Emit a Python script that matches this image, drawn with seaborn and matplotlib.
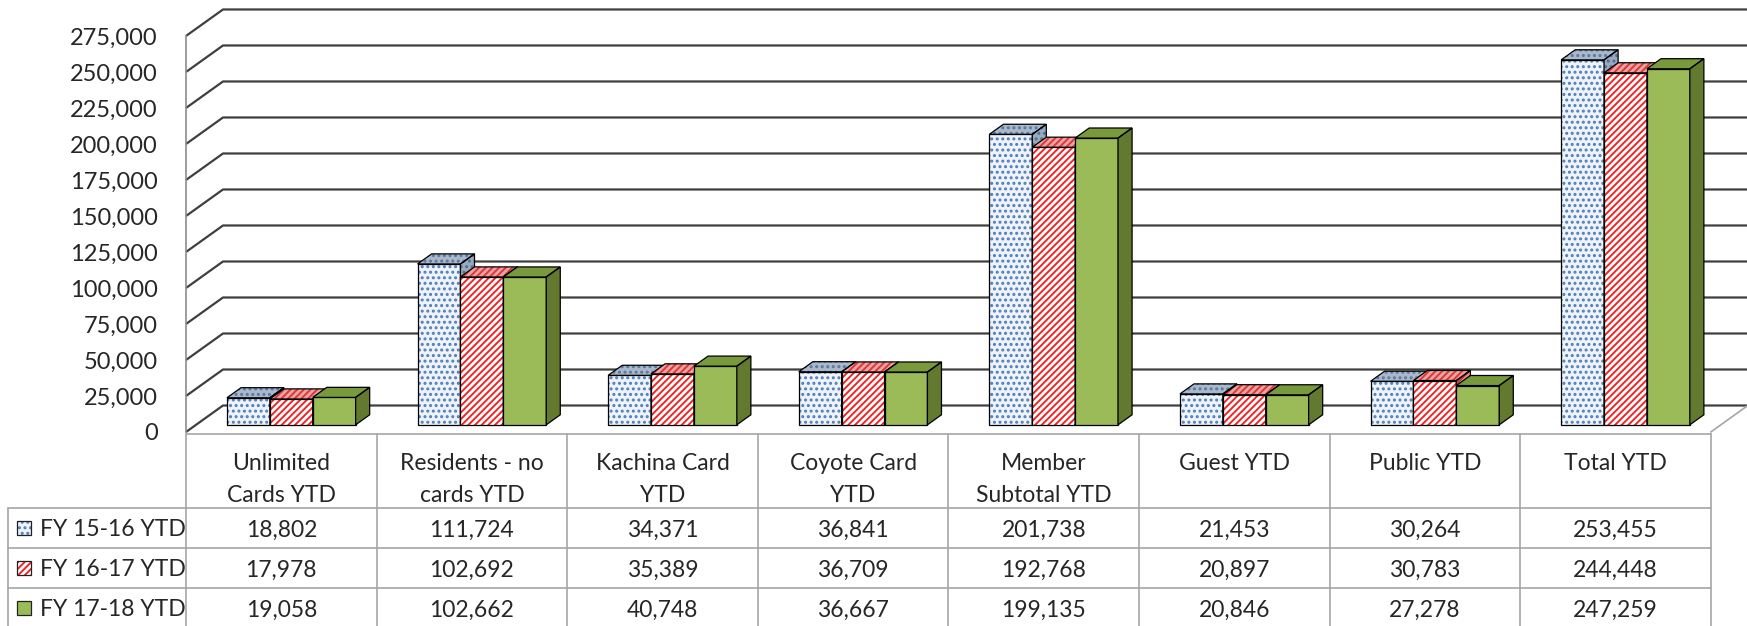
import matplotlib
matplotlib.use("Agg")
import matplotlib.pyplot as plt
from matplotlib.patches import Rectangle
import pandas as pd
import seaborn as sns

categories = ["Unlimited\nCards YTD", "Residents - no\ncards YTD", "Kachina Card\nYTD",
              "Coyote Card\nYTD", "Member\nSubtotal YTD", "Guest YTD", "Public YTD", "Total YTD"]
series = ["FY 15-16 YTD", "FY 16-17 YTD", "FY 17-18 YTD"]
fy1516 = [18802, 111724, 34371, 36841, 201738, 21453, 30264, 253455]
fy1617 = [17978, 102692, 35389, 36709, 192768, 20897, 30783, 244448]
fy1718 = [19058, 102662, 40748, 36667, 199135, 20846, 27278, 247259]
yticks = list(range(0, 275001, 25000))

values = [fy1516, fy1617, fy1718]
df = pd.DataFrame({
    "category": [c for s in series for c in categories],
    "series": [s for s in series for c in categories],
    "value": [v for vals in values for v in vals],
})

# styles per series: (fc, hatch colour) for front / top / side faces
styles = [
    dict(front=("#eef3fa", "#4f7cb8"), top=("#a8b8cd", "#5d7699"), side=("#98aac2", "#546d8f"), hatch="..."),
    dict(front=("#ffffff", "#f02424"), top=("#f0a2a2", "#d83a3a"), side=("#e58a8a", "#c83030"), hatch="/////"),
    dict(front=("#9bbb59", "#9bbb59"), top=("#789a3c", "#789a3c"), side=("#62792f", "#62792f"), hatch=None),
]

sns.set_style("white")
plt.rcParams["font.family"] = ["Lato", "DejaVu Sans"]
plt.rcParams["hatch.linewidth"] = 1.4
FS = 16.5

W, H = 1747, 626
fig = plt.figure(figsize=(W / 100, H / 100), dpi=100)

# table / text layer in pixel coords
tab = fig.add_axes([0, 0, 1, 1])
tab.set_xlim(0, W)
tab.set_ylim(H, 0)
tab.axis("off")

# chart axes: front plane of the 3D box
x_left, y_zero = 186, 432
colw = 190.6
ax = fig.add_axes([x_left / W, (H - y_zero) / H, (W - x_left) / W, y_zero / H])
ax.patch.set_visible(False)
ax.set_zorder(2)
per_px = 694.4
ymax = y_zero * per_px

sns.barplot(data=df, x="category", y="value", hue="series", order=categories,
            hue_order=series, width=0.675, dodge=True, legend=False, ax=ax,
            errorbar=None)
ax.set_xlim(-0.5, -0.5 + (W - x_left) / colw)
ax.set_ylim(0, ymax)
ax.set_xlabel("")
ax.set_ylabel("")
ax.set_xticks([])

DX, DY = 37 / colw, 26.5 * per_px      # full depth of floor
f0, fd = 0.27, 0.38                     # bar front offset and bar depth

# back wall gridlines
for v in yticks:
    ax.plot([-0.5, -0.5 + DX, 7.5 + DX], [v, v + DY, v + DY], color="#3f3f3f", lw=1.6,
            zorder=1, clip_on=False, solid_capstyle="butt")
# floor right edge
ax.plot([7.5, 7.5 + DX], [0, DY], color="#a6a6a6", lw=1.2, zorder=1, clip_on=False)

def face(xs, ys, fc, hc, hatch, z):
    ax.fill(xs, ys, facecolor=fc, edgecolor=hc, hatch=hatch, lw=0, zorder=z, clip_on=False)
    ax.fill(xs, ys, facecolor="none", edgecolor="black", lw=0.9, zorder=z + 0.001,
            clip_on=False, joinstyle="miter")

bars = sorted(ax.patches, key=lambda p: p.get_x())
ddx, ddy = fd * DX, fd * DY
for k, p in enumerate(bars):
    st = styles[k % 3]
    z = 3 + k * 0.01
    x0 = p.get_x() + f0 * DX
    y0 = f0 * DY
    w, h = p.get_width(), p.get_height()
    p.set_x(x0)
    p.set_y(y0)
    p.set_facecolor(st["front"][0])
    p.set_edgecolor(st["front"][1])
    p.set_hatch(st["hatch"])
    p.set_linewidth(0)
    p.set_zorder(z)
    p.set_clip_on(False)
    ax.add_patch(Rectangle((x0, y0), w, h, fill=False, edgecolor="black", lw=0.9,
                           zorder=z + 0.001, clip_on=False))
    face([x0, x0 + w, x0 + w + ddx, x0 + ddx], [y0 + h, y0 + h, y0 + h + ddy, y0 + h + ddy],
         st["top"][0], st["top"][1], st["hatch"], z + 0.002)
    face([x0 + w, x0 + w + ddx, x0 + w + ddx, x0 + w], [y0, y0 + ddy, y0 + h + ddy, y0 + h],
         st["side"][0], st["side"][1], st["hatch"], z + 0.002)

# axes styling
for s in ["top", "right", "bottom"]:
    ax.spines[s].set_visible(False)
ax.spines["left"].set_bounds(0, 275000)
ax.spines["left"].set_color("#8c8c8c")
ax.spines["left"].set_linewidth(1.2)
ax.set_yticks(yticks)
ax.set_yticklabels([f"{v:,}" for v in yticks], fontsize=FS + 0.5)
ax.tick_params(axis="y", direction="out", length=6.5, width=1.1, color="#8c8c8c", pad=14)

# data table
grid = "#a6a6a6"
edges = [x_left + i * colw for i in range(len(categories) + 1)]
row_y = [434, 508, 548, 588]
tab.plot([edges[0], edges[-1]], [434, 434], color=grid, lw=1.2)
for y in row_y[1:]:
    tab.plot([8, edges[-1]], [y, y], color=grid, lw=1.2)
tab.plot([8, 8], [508, H], color=grid, lw=1.2)
for x in edges:
    tab.plot([x, x], [434, H], color=grid, lw=1.2)

for i, cat in enumerate(categories):
    cx = (edges[i] + edges[i + 1]) / 2
    for j, line in enumerate(cat.split("\n")):
        tab.text(cx, 462 + j * 31, line, ha="center", va="center_baseline", fontsize=FS)
    for r, vals in enumerate(values):
        tab.text(cx, 528 + r * 40, f"{vals[i]:,}", ha="center", va="center_baseline", fontsize=FS)

for r, name in enumerate(series):
    st = styles[r]
    yc = 528 + r * 40
    tab.add_patch(Rectangle((17, yc - 7), 14, 14, facecolor=st["front"][0],
                            edgecolor=st["front"][1], hatch=st["hatch"], lw=0))
    tab.add_patch(Rectangle((17, yc - 7), 14, 14, fill=False, edgecolor="#222222", lw=0.9))
    tab.text(40, yc, name, ha="left", va="center_baseline", fontsize=FS)

fig.savefig("out.png", dpi=100)
